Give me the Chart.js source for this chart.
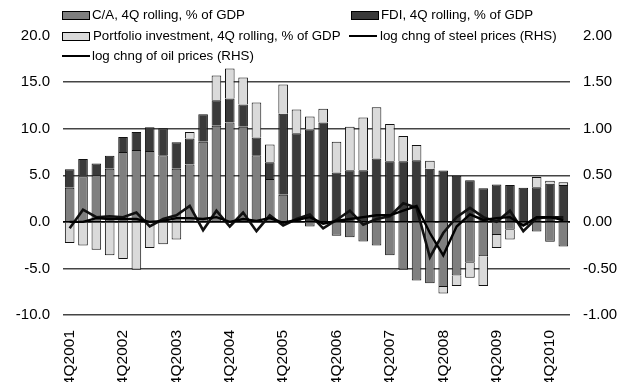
<!DOCTYPE html>
<html>
<head>
<meta charset="utf-8">
<script src="https://cdn.jsdelivr.net/npm/chart.js@4.4.0/dist/chart.umd.min.js"></script>
<style>
  html,body{margin:0;padding:0;background:#fff;}
  #wrap{position:relative;width:633px;height:382px;overflow:hidden;font-family:"Liberation Sans",Arial,sans-serif;}
  canvas{position:absolute;left:0;top:0;}
  .lg{position:absolute;font-size:13.3px;color:#000;white-space:nowrap;line-height:16px;}
  .bx{position:absolute;width:26px;height:7px;border:1px solid #000;}
  .ln{position:absolute;width:28px;height:0;border-top:2.5px solid #000;}
</style>
</head>
<body>
<div id="wrap">
  <canvas id="c" width="633" height="382"></canvas>
  <div class="bx" style="left:62px;top:11px;background:#7f7f7f"></div>
  <div class="lg" style="left:92px;top:7px">C/A, 4Q rolling, % of GDP</div>
  <div class="bx" style="left:351px;top:11px;background:#3a3a3a"></div>
  <div class="lg" style="left:381px;top:7px">FDI, 4Q rolling, % of GDP</div>
  <div class="bx" style="left:62px;top:32px;background:#dadada"></div>
  <div class="lg" style="left:93px;top:28px">Portfolio investment, 4Q rolling, % of GDP</div>
  <div class="ln" style="left:349px;top:35px"></div>
  <div class="lg" style="left:380px;top:28px">log chng of steel prices (RHS)</div>
  <div class="ln" style="left:62px;top:55px"></div>
  <div class="lg" style="left:92px;top:48px">log chng of oil prices (RHS)</div>
</div>
<script>
const categories = [
  '4Q2001','1Q2002','2Q2002','3Q2002','4Q2002','1Q2003','2Q2003','3Q2003','4Q2003',
  '1Q2004','2Q2004','3Q2004','4Q2004','1Q2005','2Q2005','3Q2005','4Q2005',
  '1Q2006','2Q2006','3Q2006','4Q2006','1Q2007','2Q2007','3Q2007','4Q2007',
  '1Q2008','2Q2008','3Q2008','4Q2008','1Q2009','2Q2009','3Q2009','4Q2009',
  '1Q2010','2Q2010','3Q2010','4Q2010','1Q2011'
];
const caValues = [3.65,4.9,5.0,5.7,7.5,7.7,7.6,7.15,5.7,6.15,8.6,10.3,10.65,10.2,7.15,4.6,2.9,
  -0.1,-0.5,-0.15,-1.5,-1.65,-2.1,-2.55,-3.6,-5.15,-6.3,-6.6,-7.0,-5.75,-4.4,-3.7,-1.4,-0.85,-0.4,-1.05,-2.15,-2.65];
const fdiValues = [2.0,1.85,1.25,1.4,1.6,1.95,2.55,2.9,2.85,2.8,2.95,2.75,2.6,2.4,1.9,1.8,8.7,
  9.5,9.9,10.65,5.3,5.55,5.55,6.8,6.5,6.5,6.6,5.7,5.5,4.95,4.45,3.6,4.0,3.95,3.65,3.7,4.1,3.95];
const portfolioValues = [-2.27,-2.55,-3.0,-3.6,-4.0,-5.15,-2.8,-2.4,-1.9,0.7,0,2.65,3.2,2.9,3.75,1.9,3.15,
  2.55,1.4,1.5,3.3,4.65,5.65,5.5,4.0,2.7,1.65,0.85,-0.7,-1.15,-1.6,-3.2,-1.4,-1.05,0,1.1,0.3,0.3];
const steelValues = [0.00,0.00,0.04,0.03,0.03,0.03,0.00,0.01,0.04,0.04,0.03,0.05,0.00,0.03,0.01,0.04,-0.01,
  0.02,0.05,-0.02,0.01,0.03,0.05,0.07,0.07,0.12,0.17,-0.12,-0.36,-0.05,0.08,0.02,0.04,0.05,-0.04,0.05,0.05,0.02];
const oilValues = [-0.07,0.13,0.05,0.06,0.05,0.10,-0.05,0.03,0.07,0.17,-0.09,0.12,-0.05,0.10,-0.10,0.07,-0.04,
  0.03,0.08,-0.07,0.02,0.12,-0.03,0.03,0.06,0.20,0.15,-0.38,-0.12,0.05,0.15,0.05,0.00,0.12,-0.10,0.04,0.05,0.05];
const leftTicks = {min:-10, max:20, step:5};
const rightTicks = {min:-1, max:2, step:0.5};

const FONT = "'Liberation Sans', Arial, sans-serif";
const barCommon = {borderColor:'#111', borderWidth:1, barPercentage:0.72, categoryPercentage:1.0, stack:'s', yAxisID:'y', order:2};

new Chart(document.getElementById('c'), {
  type:'bar',
  data:{
    labels:categories,
    datasets:[
      Object.assign({label:'C/A, 4Q rolling, % of GDP', data:caValues, backgroundColor:'#7f7f7f'}, barCommon),
      Object.assign({label:'FDI, 4Q rolling, % of GDP', data:fdiValues, backgroundColor:'#3a3a3a'}, barCommon),
      Object.assign({label:'Portfolio investment, 4Q rolling, % of GDP', data:portfolioValues, backgroundColor:'#dadada'}, barCommon),
      {type:'line', label:'log chng of steel prices (RHS)', data:steelValues, yAxisID:'y2', borderColor:'#000', borderWidth:2.4, pointRadius:0, tension:0, fill:false, order:0},
      {type:'line', label:'log chng of oil prices (RHS)', data:oilValues, yAxisID:'y2', borderColor:'#111', borderWidth:2.6, pointRadius:0, tension:0, fill:false, order:1}
    ]
  },
  options:{
    responsive:false, animation:false, devicePixelRatio:1,
    layout:{padding:{top:35.5, bottom:0, left:0, right:0}},
    plugins:{legend:{display:false}, tooltip:{enabled:false}},
    scales:{
      x:{
        stacked:true,
        grid:{display:false, drawTicks:false},
        border:{display:false},
        ticks:{autoSkip:false, minRotation:90, maxRotation:90, padding:15, color:'#000',
          font:{family:FONT, size:15.5},
          callback:function(v,i){ return i%4===0 ? categories[i] : ''; }},
        afterFit:function(s){ s.height = 67; }
      },
      y:{
        position:'left', stacked:true, min:leftTicks.min, max:leftTicks.max,
        grid:{drawTicks:false,
              color:function(ctx){ if(!ctx.tick) return '#444'; if(ctx.tick.value===20) return 'rgba(0,0,0,0)'; return ctx.tick.value===0 ? '#000' : '#444'; },
              lineWidth:function(ctx){ return ctx.tick && ctx.tick.value===0 ? 1.8 : 1.4; }},
        border:{display:false},
        ticks:{stepSize:leftTicks.step, padding:13, color:'#000', font:{family:FONT, size:15},
          callback:function(v){ return v.toFixed(1); }},
        afterFit:function(s){ s.width = 63; }
      },
      y2:{
        position:'right', stacked:false, min:rightTicks.min, max:rightTicks.max,
        grid:{display:false, drawTicks:false},
        border:{display:false},
        ticks:{stepSize:rightTicks.step, padding:13, color:'#000', font:{family:FONT, size:15},
          callback:function(v){ return v.toFixed(2); }},
        afterFit:function(s){ s.width = 63; }
      }
    }
  }
});
</script>
</body>
</html>
